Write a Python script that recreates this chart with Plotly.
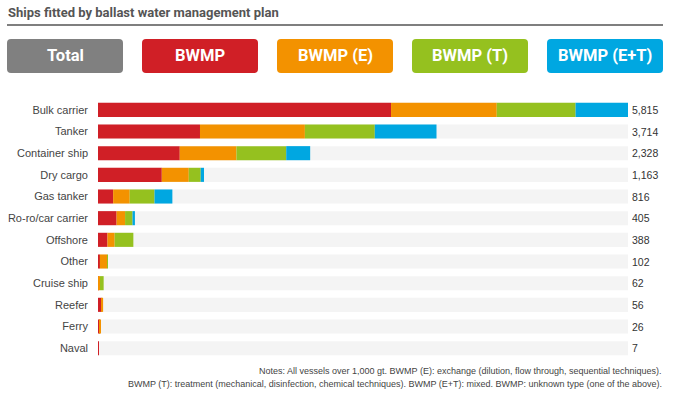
import plotly.graph_objects as go

categories = ["Bulk carrier", "Tanker", "Container ship", "Dry cargo", "Gas tanker",
              "Ro-ro/car carrier", "Offshore", "Other", "Cruise ship", "Reefer", "Ferry", "Naval"]
totals = [5815, 3714, 2328, 1163, 816, 405, 388, 102, 62, 56, 26, 7]
bwmp = [3215, 1119, 897, 700, 166, 204, 104, 20, 10, 40, 12, 7]
bwmp_e = [1160, 1151, 622, 296, 182, 93, 79, 80, 12, 16, 14, 0]
bwmp_t = [865, 767, 546, 131, 272, 82, 205, 2, 40, 0, 0, 0]
bwmp_et = [575, 677, 263, 36, 196, 26, 0, 0, 0, 0, 0, 0]

series_names = ["BWMP", "BWMP (E)", "BWMP (T)", "BWMP (E+T)"]
series_values = [bwmp, bwmp_e, bwmp_t, bwmp_et]
series_colors = ["#d01f26", "#f39200", "#95c11f", "#00a7e1"]
legend_labels = ["Total", "BWMP", "BWMP (E)", "BWMP (T)", "BWMP (E+T)"]
legend_colors = ["#808080"] + series_colors

title = "Ships fitted by ballast water management plan"
notes = ["Notes: All vessels over 1,000 gt. BWMP (E): exchange (dilution, flow through, sequential techniques).",
         "BWMP (T): treatment (mechanical, disinfection, chemical techniques). BWMP (E+T): mixed. BWMP: unknown type (one of the above)."]

W, H = 674, 397
L, R, T, B = 98, 628, 99, 359


def xp(px):
    return (px - L) / (R - L)


def yp(py):
    return (B - py) / (B - T)


fig = go.Figure()
max_total = max(totals)
fig.add_trace(go.Bar(y=categories, x=[max_total] * len(categories), orientation="h",
                     marker=dict(color="#f4f4f4", line=dict(width=0)), hoverinfo="skip",
                     showlegend=False))
base = [0] * len(categories)
for name, vals, col in zip(series_names, series_values, series_colors):
    fig.add_trace(go.Bar(y=categories, x=vals, base=list(base), orientation="h", name=name,
                         marker=dict(color=col, line=dict(width=0)), showlegend=False))
    base = [b + v for b, v in zip(base, vals)]

annotations = []
for cat, tot in zip(categories, totals):
    annotations.append(dict(x=1, xref="paper", y=cat, yref="y", text=f"{tot:,}", showarrow=False,
                            xanchor="left", xshift=2,
                            font=dict(family="Liberation Sans, Arial", size=10.5, color="#333")))

# title
annotations.append(dict(x=xp(6), y=yp(12), xref="paper", yref="paper", text=f"<b>{title}</b>",
                        showarrow=False, xanchor="left", yanchor="middle",
                        font=dict(family="Roboto, Arial", size=13, color="#555")))

shapes = [dict(type="line", xref="paper", yref="paper", x0=xp(7), x1=xp(663), y0=yp(25), y1=yp(25),
               line=dict(color="#555", width=1.5))]

# legend buttons
bx = [7, 142, 277, 412, 547]
bw = 116
by0, by1 = 39, 73
r = 4
for x0, lab, col in zip(bx, legend_labels, legend_colors):
    x1 = x0 + bw
    path = (f"M {xp(x0 + r)},{yp(by0)} L {xp(x1 - r)},{yp(by0)} Q {xp(x1)},{yp(by0)} {xp(x1)},{yp(by0 + r)} "
            f"L {xp(x1)},{yp(by1 - r)} Q {xp(x1)},{yp(by1)} {xp(x1 - r)},{yp(by1)} "
            f"L {xp(x0 + r)},{yp(by1)} Q {xp(x0)},{yp(by1)} {xp(x0)},{yp(by1 - r)} "
            f"L {xp(x0)},{yp(by0 + r)} Q {xp(x0)},{yp(by0)} {xp(x0 + r)},{yp(by0)} Z")
    shapes.append(dict(type="path", xref="paper", yref="paper", path=path, fillcolor=col,
                       line=dict(width=0), layer="above"))
    annotations.append(dict(x=xp((x0 + x1) / 2), y=yp((by0 + by1) / 2), xref="paper", yref="paper",
                            text=f"<b>{lab}</b>", showarrow=False, xanchor="center", yanchor="middle",
                            font=dict(family="Roboto, Arial", size=16.5, color="white")))

# notes
for i, line in enumerate(notes):
    annotations.append(dict(x=xp(664), y=yp(371 + i * 12.5), xref="paper", yref="paper", text=line,
                            showarrow=False, xanchor="right", yanchor="middle",
                            font=dict(family="Liberation Sans, Arial", size=9, color="#444")))

fig.update_layout(
    width=W, height=H, margin=dict(l=L, r=W - R, t=T, b=H - B, autoexpand=False),
    paper_bgcolor="white", plot_bgcolor="white",
    barmode="overlay", bargap=0.35,
    xaxis=dict(range=[0, max_total], visible=False, showgrid=False, zeroline=False, fixedrange=True),
    yaxis=dict(categoryorder="array", categoryarray=categories, range=[len(categories) - 0.5, -0.5],
               showgrid=False, zeroline=False, showline=False, ticks="", ticklabelstandoff=9,
               tickfont=dict(family="Liberation Sans, Arial", size=11, color="#444"), fixedrange=True),
    annotations=annotations, shapes=shapes, showlegend=False,
)

fig.write_html("out.html", config={"displayModeBar": False},
               post_script="document.body.style.margin='0px';")
